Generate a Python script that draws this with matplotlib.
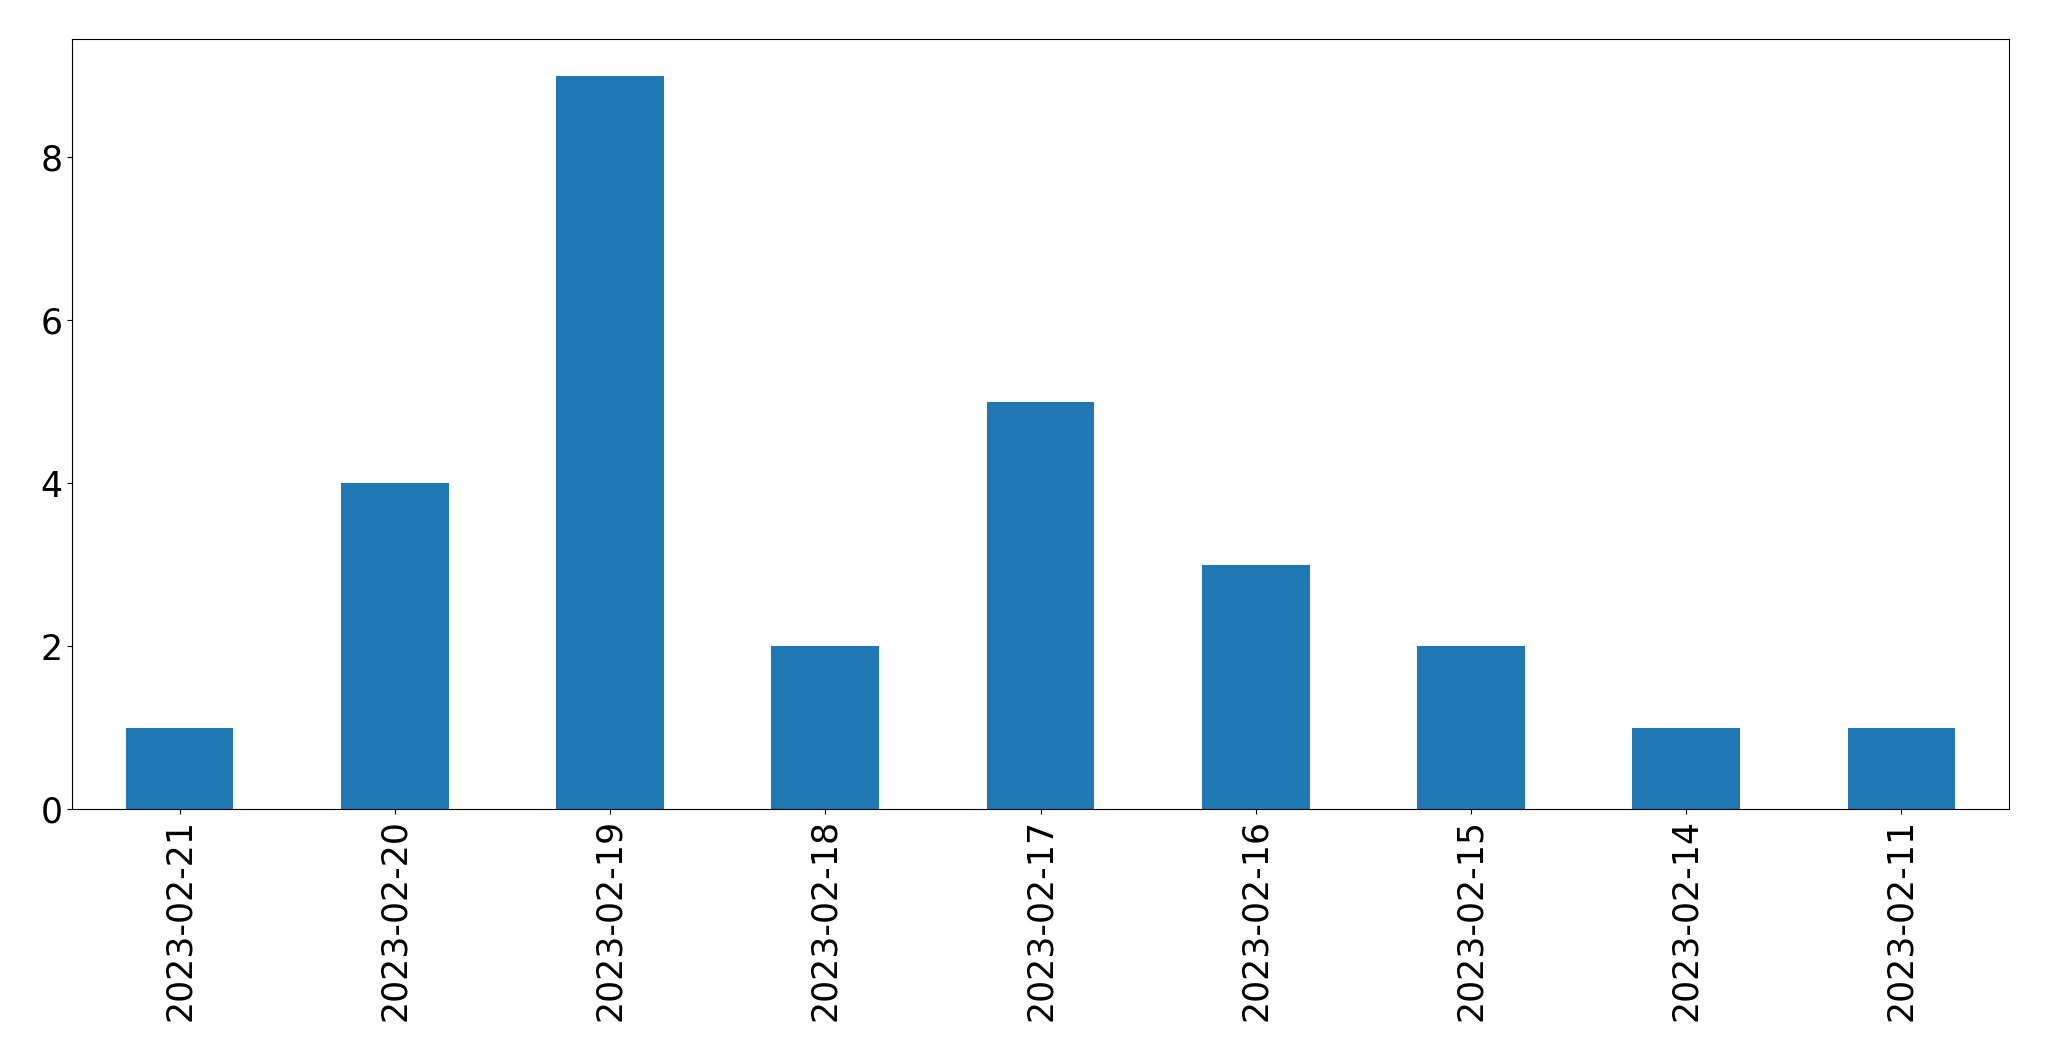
import matplotlib
matplotlib.use("Agg")
import matplotlib.pyplot as plt

dates = ["2023-02-21", "2023-02-20", "2023-02-19", "2023-02-18", "2023-02-17",
         "2023-02-16", "2023-02-15", "2023-02-14", "2023-02-11"]
counts = [1, 4, 9, 2, 5, 3, 2, 1, 1]

fig = plt.figure(figsize=(20.49, 10.61), dpi=100)
ax = fig.add_axes([72/2049, 1 - 809/1061, (2009-72)/2049, (809-39)/1061])
x = list(range(len(dates)))
ax.bar(x, counts, width=0.5, color="#1f77b4")
ax.set_xlim(-0.5, len(dates) - 0.5)
ax.set_ylim(0, 9.45)
ax.set_xticks(x)
ax.set_xticklabels(dates, rotation=90, fontsize=25)
ax.set_yticks([0, 2, 4, 6, 8])
ax.tick_params(axis="y", labelsize=25)
fig.savefig("out.png", dpi=100)
